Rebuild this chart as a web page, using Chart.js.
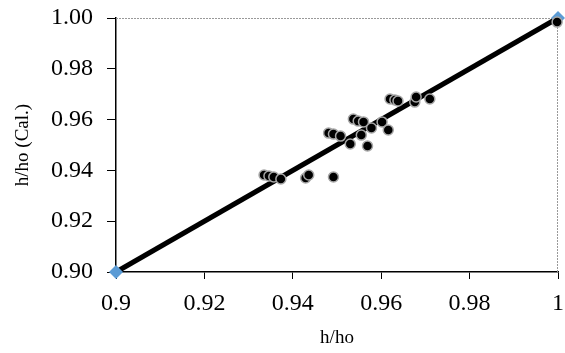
<!DOCTYPE html>
<html><head><meta charset="utf-8">
<script src="https://cdn.jsdelivr.net/npm/chart.js@4"></script>
<style>html,body{margin:0;padding:0;background:#fff}#wrap{width:565px;height:353px}</style>
</head><body><div id="wrap"><canvas id="c"></canvas></div>
<script>
const measuredX = [0.9335,0.9346,0.9357,0.9373,0.9429,0.9436,0.9492,0.9481,0.9492,0.9508,0.9530,0.9537,0.9548,0.9560,0.9555,0.9569,0.9578,0.9602,0.9616,0.9620,0.9631,0.9638,0.9676,0.9679,0.9710,0.9998];
const calcY    = [0.9382,0.9378,0.9374,0.9366,0.9370,0.9382,0.9374,0.9547,0.9543,0.9535,0.9504,0.9602,0.9594,0.9591,0.9539,0.9496,0.9567,0.9591,0.9559,0.9681,0.9677,0.9673,0.9669,0.9689,0.9681,0.9984];
const lineX = [0.9, 1.0];
const lineY = [0.9, 1.0];
const xTicks = [0.9,0.92,0.94,0.96,0.98,1];
const yTicks = [0.90,0.92,0.94,0.96,0.98,1.00];

const framePlugin = {
  id:'frame',
  beforeDatasetsDraw(chart){
    const {ctx, chartArea:a} = chart;
    ctx.save();
    ctx.strokeStyle = '#999';
    ctx.lineWidth = 1;
    ctx.setLineDash([2,1]);
    ctx.beginPath();
    ctx.moveTo(a.left, a.top+0.5); ctx.lineTo(a.right, a.top+0.5);
    ctx.moveTo(a.right-0.5, a.top); ctx.lineTo(a.right-0.5, a.bottom);
    ctx.stroke();
    ctx.restore();
  }
};
const fam = '"Liberation Serif", "Times New Roman", serif';
const font = {family:fam, size:24};
new Chart(document.getElementById('c'), {
  type:'scatter',
  data:{datasets:[
    {type:'scatter', data: measuredX.map((x,i)=>({x, y:calcY[i]})), backgroundColor:'#000', borderColor:'#a6a6a6', borderWidth:1.5, pointRadius:5, order:0},
    {type:'line', data: lineX.map((x,i)=>({x, y:lineY[i]})), borderColor:'#000', borderWidth:5, pointStyle:'rectRot', pointRadius:7, pointBackgroundColor:'#5b9bd5', pointBorderColor:'#5b9bd5', pointBorderWidth:0, order:1}
  ]},
  plugins:[framePlugin],
  options:{
    responsive:true, maintainAspectRatio:false, animation:false,
    clip:false,
    layout:{padding:{top:18,right:2,left:0,bottom:0}},
    plugins:{legend:{display:false}, tooltip:{enabled:false}},
    scales:{
      x:{type:'linear', min:0.9, max:1,
        afterBuildTicks(s){ s.ticks = xTicks.map(v=>({value:v})); },
        afterFit(s){ s.height = 81; s.paddingLeft = 0; s.paddingRight = 0; },
        ticks:{font, color:'#000', padding:10, maxRotation:0, callback:v=>String(Number(v.toFixed(2)))},
        grid:{drawOnChartArea:false, drawTicks:true, tickLength:7, color:'#000'},
        border:{color:'#000', width:1.5},
        title:{display:true, text:'h/ho', font:{family:fam, size:19}, color:'#000', padding:{top:4, bottom:4}}
      },
      y:{type:'linear', min:0.9, max:1.0,
        afterBuildTicks(s){ s.ticks = yTicks.map(v=>({value:v})); },
        afterFit(s){ s.width = 116; s.paddingTop = 0; s.paddingBottom = 0; },
        ticks:{font, color:'#000', padding:14, callback:v=>v.toFixed(2)},
        grid:{drawOnChartArea:false, drawTicks:true, tickLength:9, color:'#000'},
        border:{color:'#000', width:1.5},
        title:{display:true, text:'h/ho (Cal.)', font:{family:fam, size:19}, color:'#000', padding:{top:12, bottom:0}}
      }
    }
  }
});
</script></body></html>
